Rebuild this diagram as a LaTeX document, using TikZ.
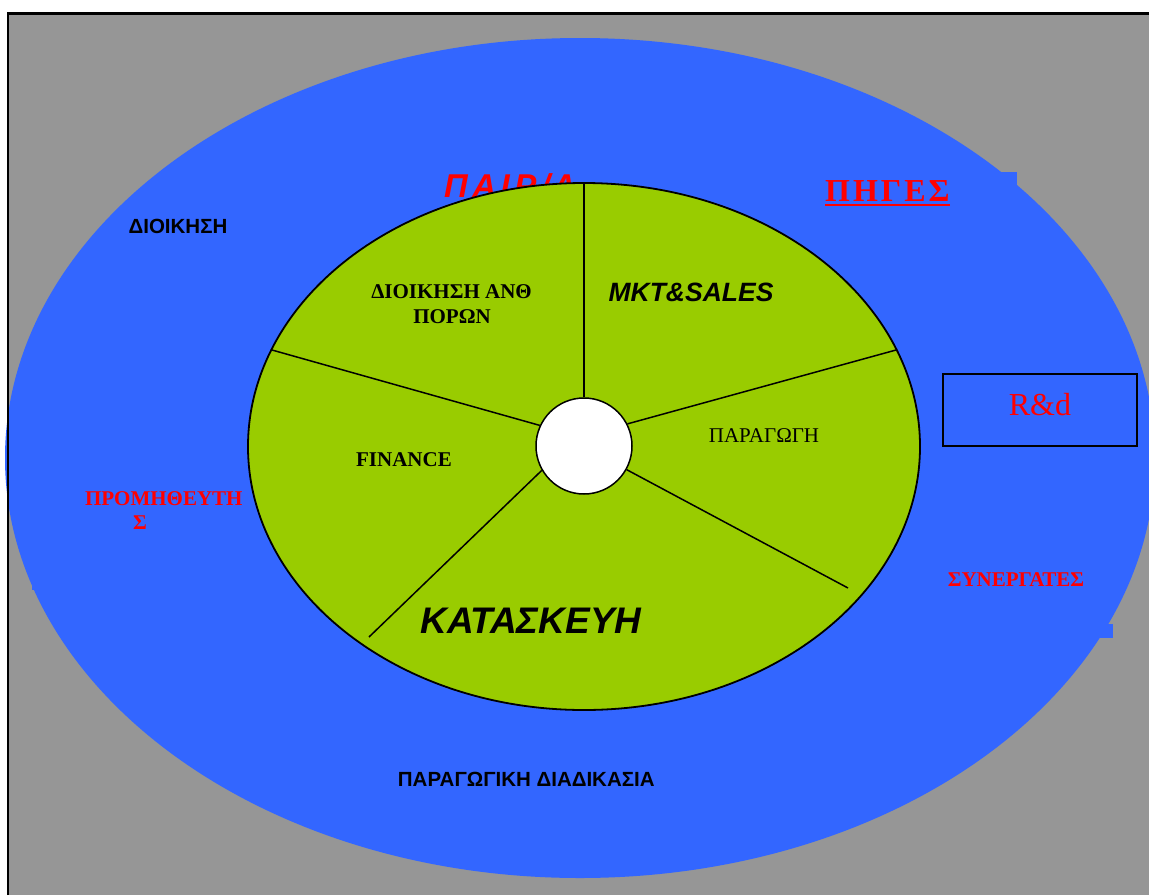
\documentclass[tikz,border=0pt]{standalone}
\usepackage{fontspec}
\setmainfont{Liberation Serif}
\newfontfamily\arial{Liberation Sans}
\usetikzlibrary{calc}
\definecolor{paper}{HTML}{969696}
\definecolor{ring}{HTML}{3366FF}
\definecolor{core}{HTML}{99CC00}
\definecolor{alert}{HTML}{FF0000}
\tikzset{
  lbl/.style={inner sep=0pt, anchor=base},
  sanslbl/.style={lbl, font=\arial\bfseries\fontsize{20.5}{24}\selectfont},
  seriflbl/.style={lbl, font=\bfseries\fontsize{21}{25}\selectfont},
  redlbl/.style={seriflbl, text=alert},
  spoke/.style={line width=1.5pt},
}
\begin{document}
\begin{tikzpicture}[x=1pt,y=-1pt]
\useasboundingbox (0,0) rectangle (1149,895);
% page background
\fill[white] (0,0) rectangle (1149,895);
\fill[paper] (8,13) rectangle (1149,895);

% outer ring and its text frames
\fill[ring] (580,458) ellipse [x radius=575pt, y radius=420pt];
\fill[ring] (800,172) rectangle (1017,215);
\fill[ring] (32,480) rectangle (280,590);
\fill[ring] (900,624) rectangle (1113,638);

% partly hidden heading behind the core
\node[lbl, anchor=base west, text=alert, font=\arial\bfseries\itshape\fontsize{33}{36}\selectfont] (hidden) at (444,197) {Π\kern4.5ptΑ\kern4.5ptΙ\kern4.5ptΡ\kern4.5pt/\kern2ptΑ};

% inner core
\fill[core, draw=black, line width=1.8pt] (584,446.5) ellipse [x radius=336pt, y radius=263.5pt];

% hub and spokes
\node[circle, draw=black, line width=1.5pt, fill=white, minimum size=96pt, inner sep=0pt] (hub) at (584,446) {};
\coordinate (eT) at (584,183);
\coordinate (eUR) at (896,350);
\coordinate (eLR) at (848,588);
\coordinate (eLL) at (369,637);
\coordinate (eUL) at (272,350);
\draw[spoke] (hub.90) -- (eT);
\draw[spoke] (hub.27) -- (eUR);
\draw[spoke] (hub.-29) -- (eLR);
\draw[spoke] (hub.-150) -- (eLL);
\draw[spoke] (hub.155) -- (eUL);

% labels in the core
\node[seriflbl] (hr1) at (451.5,298) {ΔΙΟΙΚΗΣΗ ΑΝΘ};
\node[seriflbl] (hr2) at (452,323) {ΠΟΡΩΝ};
\node[lbl, font=\arial\bfseries\itshape\fontsize{26.5}{30}\selectfont] (mkt) at (691,301.5) {MKT\&SALES};
\node[lbl, font=\fontsize{21}{25}\selectfont] (prod) at (764,442) {ΠΑΡΑΓΩΓΗ};
\node[seriflbl] (fin) at (404,466) {FINANCE};
\node[lbl, font=\arial\bfseries\itshape\fontsize{37}{42}\selectfont] (make) at (531,633) {ΚΑΤΑΣΚΕΥΗ};

% labels in the ring
\node[sanslbl] (admin) at (178,233) {ΔΙΟΙΚΗΣΗ};
\node[sanslbl] (process) at (526.3,786.7) {ΠΑΡΑΓΩΓΙΚΗ ΔΙΑΔΙΚΑΣΙΑ};
\node[redlbl] (sup1) at (163.8,505) {ΠΡΟΜΗΘΕΥΤΗ};
\node[redlbl] (sup2) at (140,529) {Σ};
\node[redlbl] (partners) at (1016,586) {ΣΥΝΕΡΓΑΤΕΣ};
\node[lbl, text=alert, font=\bfseries\fontsize{32}{36}\selectfont] (sources) at (887.4,201.7) {Π\kern3ptΗ\kern3ptΓ\kern3ptΕ\kern3ptΣ};
\draw[alert, line width=1.8pt] ($(sources.base west)+(0,3)$) -- ($(sources.base east)+(0,3)$);

% R&D box
\node[draw=black, line width=2.6pt, fill=ring, minimum width=194pt, minimum height=72pt, inner sep=0pt] (rd) at (1040,410) {};
\node[lbl, text=alert, font=\fontsize{32}{36}\selectfont] (rdtext) at (1040,415) {R\&d};

% frame on top
\draw[line width=2.6pt] (7.8,895) -- (7.8,13.7) -- (1149,13.7);
\end{tikzpicture}
\end{document}
